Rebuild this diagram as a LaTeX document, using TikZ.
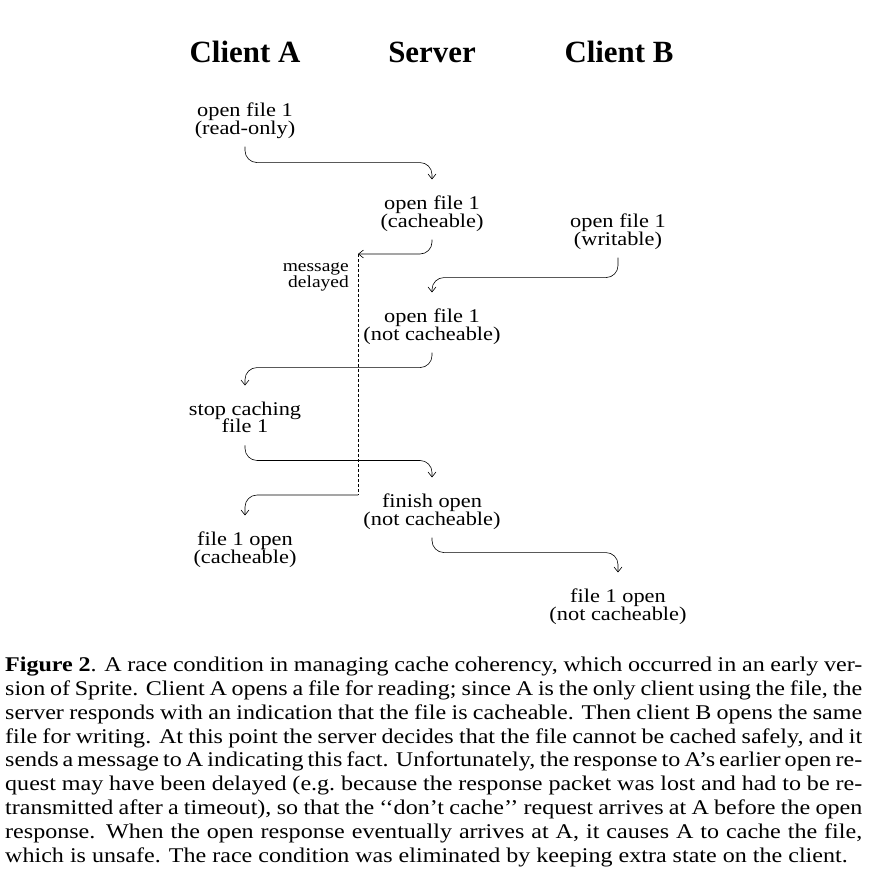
\documentclass[tikz,border=0pt]{standalone}
\usepackage{fontspec}
\setmainfont{Liberation Serif}[FakeStretch=1.15]
\newfontfamily\headfont{Liberation Serif}
\usetikzlibrary{arrows.meta}

% fixed line height for the two-line labels
\newcommand\lblstrut{\vrule height 13.5bp depth 4.5bp width 0pt\relax}
\newcommand\tightlines{\lineskiplimit=-100pt\relax}

\tikzset{
  step label/.style={align=center, inner sep=2bp, outer sep=0pt,
    font=\fontsize{19.5}{18}\selectfont\tightlines,
    execute at begin node=\lblstrut, execute at end node=\lblstrut},
  party/.style={anchor=base, font=\headfont\fontsize{31}{32}\selectfont\bfseries},
  msg/.style={line width=0.6bp, rounded corners=12bp,
    -{Straight Barb[length=5bp,width=8bp]}},
  from step/.style={shorten <=6bp},
  to step/.style={shorten >=14bp}
}

\begin{document}
\begin{tikzpicture}[x=1bp, y=-1bp]
        % Fix the page size
        \useasboundingbox (0,0) rectangle (878,887);

        % The three parties
        \node[party] (hA) at (245,62) {Client A};
        \node[party] (hS) at (432,62) {Server};
        \node[party] (hB) at (619,62) {Client B};

        % The steps of each party
        \node[step label] (ra)   at (245,120.5) {open file 1\\(read-only)};
        \node[step label] (oc)   at (432,213.5) {open file 1\\(cacheable)};
        \node[step label] (ow)   at (618,231.5) {open file 1\\(writable)};
        \node[step label] (onc)  at (432,326.5) {open file 1\\(not cacheable)};
        \node[step label] (sc)   at (245,419.5) {stop caching\\file 1};
        \node[step label] (fo)   at (432,511.5) {finish open\\(not cacheable)};
        \node[step label] (foc)  at (245,549.5) {file 1 open\\(cacheable)};
        \node[step label] (fonc) at (618,606.5) {file 1 open\\(not cacheable)};

        % The delayed message
        \coordinate (dtop) at (358,254);
        \coordinate (dbot) at (358,495);
        \node[align=right, anchor=east, inner sep=0pt,
              font=\fontsize{17}{16}\selectfont\tightlines] (md) at (349,277) {message\\delayed};
        \draw[line width=0.5bp, dash pattern=on 3bp off 2bp] (dtop) -- (dbot);

        % Messages between the parties
        \draw[msg, from step, to step] (ra.south) -- ++(0,22) -| (oc.north);
        \draw[msg, from step] (oc.south) |- (dtop);
        \draw[msg, from step, to step] (ow.south) -- ++(0,26) -| (onc.north);
        \draw[msg, from step, to step] (onc.south) -- ++(0,21) -| (sc.north);
        \draw[msg, from step, to step] (sc.south) -- ++(0,21) -| (fo.north);
        \draw[msg, to step] (dbot) -| (foc.north);
        \draw[msg, from step, to step] (fo.south) -- ++(0,21) -| (fonc.north);

        % The caption
        \node[anchor=north west, inner sep=0pt, text width=857bp, align=justify,
              font=\fontsize{21}{23.9}\selectfont\tightlines] (cap) at (5,657) {%
          \hyphenpenalty=10000 \tolerance=10000
          \textbf{Figure 2}.  A race condition in managing cache coherency, which occurred in an early ver-\linebreak
          sion of Sprite.  Client A opens a file for reading;  since A is the only client using the file, the\linebreak
          server responds with an indication that the file is cacheable.  Then client B opens the same\linebreak
          file for writing.  At this point the server decides that the file cannot be cached safely, and it\linebreak
          sends a message to A indicating this fact.  Unfortunately, the response to A's earlier open re-\linebreak
          quest may have been delayed (e.g.\ because the response packet was lost and had to be re-\linebreak
          transmitted after a timeout), so that the {`}{`}don't cache{'}{'} request arrives at A before the open\linebreak
          response.  When the open response eventually arrives at A, it causes A to cache the file,\linebreak
          which is unsafe.  The race condition was eliminated by keeping extra state on the client.};
\end{tikzpicture}
\end{document}
